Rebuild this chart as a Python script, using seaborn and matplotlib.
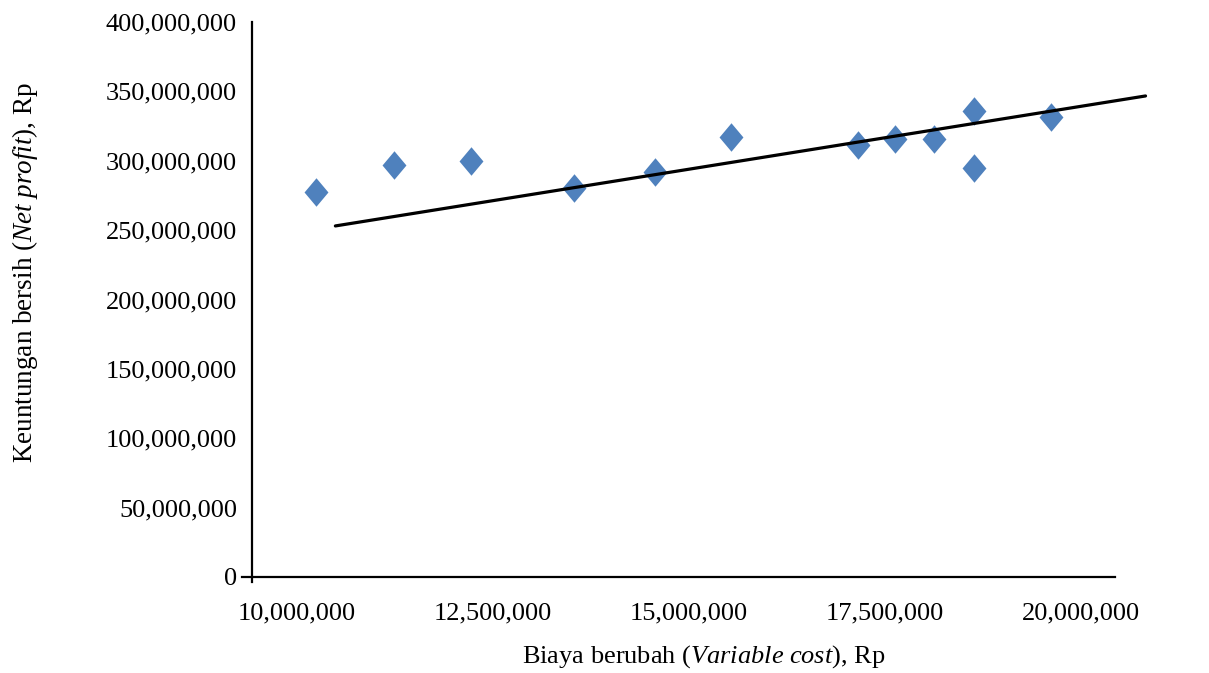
import matplotlib
matplotlib.use("Agg")
import matplotlib.pyplot as plt
import matplotlib.ticker as mticker
import matplotlib.transforms as mtransforms
import seaborn as sns
import pandas as pd

# Data
variable_cost = [10.81e6, 11.81e6, 12.79e6, 14.10e6, 15.13e6, 16.11e6,
                 17.72e6, 18.19e6, 18.69e6, 19.20e6, 19.20e6, 20.18e6]
net_profit = [277.5e6, 297e6, 300e6, 280e6, 292e6, 317e6,
              311e6, 316e6, 316e6, 336e6, 295e6, 331.5e6]
trend_x = [11.06e6, 21.39e6]
trend_y = [253e6, 346.7e6]
x_ticks = [10e6, 12.5e6, 15e6, 17.5e6, 20e6]
y_ticks = [0, 50e6, 100e6, 150e6, 200e6, 250e6, 300e6, 350e6, 400e6]

sns.set_style("white")
plt.rcParams['font.family'] = ['Liberation Serif', 'DejaVu Serif']
plt.rcParams['mathtext.fontset'] = 'custom'
plt.rcParams['mathtext.rm'] = 'Liberation Serif'
plt.rcParams['mathtext.it'] = 'Liberation Serif:italic'
plt.rcParams['text.color'] = 'black'
plt.rcParams['axes.labelcolor'] = 'black'

df = pd.DataFrame({"x": variable_cost, "y": net_profit})
tr = pd.DataFrame({"x": trend_x, "y": trend_y})

fig = plt.figure(figsize=(12.09, 6.73), dpi=100)
ax = fig.add_axes([0.2002, 0.1345, 0.7220, 0.8328])

diamond = [(0, 1), (0.84, 0), (0, -1), (-0.84, 0)]
sns.lineplot(data=tr, x="x", y="y", ax=ax, color="black", lw=2.3, zorder=3)
for ln in ax.lines:
    ln.set_clip_on(False)
sns.scatterplot(data=df, x="x", y="y", ax=ax, marker=diamond, s=420,
                color="#4F81BD", edgecolor="#4F81BD", linewidth=0, zorder=2)

ax.set_xlim(9.87e6, 21e6)
ax.set_ylim(-4e6, 400e6)
ax.set_xticks(x_ticks)
ax.set_yticks(y_ticks)
fmt = mticker.FuncFormatter(lambda v, p: f"{int(round(v)):,}")
ax.xaxis.set_major_formatter(fmt)
ax.yaxis.set_major_formatter(fmt)

for s in ["top", "right"]:
    ax.spines[s].set_visible(False)
ax.spines["left"].set_position(("data", 10e6))
ax.spines["bottom"].set_position(("data", 0))
for s in ["left", "bottom"]:
    ax.spines[s].set_color("black")
    ax.spines[s].set_linewidth(1.6)

ax.tick_params(axis="both", which="major", labelsize=19, colors="black",
               width=1.6, length=7, direction="out", pad=4)
ax.tick_params(axis="x", pad=11.5)

# x tick labels in the reference sit to the right of their ticks
offset = mtransforms.ScaledTranslation(0.44, 0, fig.dpi_scale_trans)
for lab in ax.get_xticklabels():
    lab.set_transform(lab.get_transform() + offset)

ax.set_xlabel("")
ax.set_ylabel("")
fig.text(704 / 1209, 1 - 663 / 673, r"Biaya berubah ($\it{Variable\ cost}$), Rp",
         ha="center", va="baseline", fontsize=19, color="black")
fig.text(25 / 1209, 1 - 272 / 673, r"Keuntungan bersih ($\it{Net\ profit}$), Rp",
         rotation=90, ha="center", va="center", fontsize=19.5, color="black")

fig.savefig("out.png", dpi=100)
